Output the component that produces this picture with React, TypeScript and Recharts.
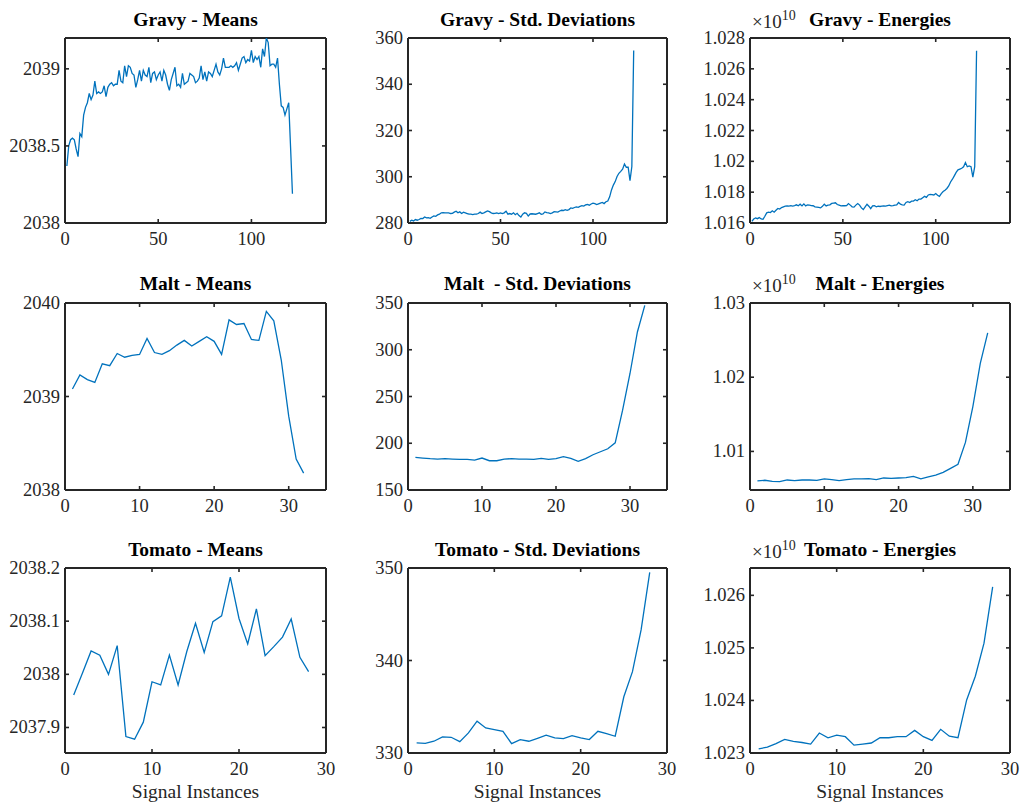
import React from "react";
import { LineChart, Line, XAxis, YAxis, ReferenceLine } from "recharts";

// Gravy: 122 signal instances
const gravyMeans = [
  2038.37, 2038.5, 2038.54, 2038.55, 2038.54, 2038.48, 2038.43, 2038.58, 2038.56, 2038.7,
  2038.75, 2038.78, 2038.84, 2038.8, 2038.83, 2038.92, 2038.84, 2038.85, 2038.84, 2038.85,
  2038.89, 2038.82, 2038.88, 2038.9, 2038.91, 2038.89, 2038.9, 2038.9, 2038.99, 2038.92,
  2038.91, 2039.02, 2038.95, 2039.02, 2039.01, 2038.97, 2038.96, 2038.88, 2038.93, 2038.99,
  2038.92, 2038.99, 2038.96, 2038.95, 2039.01, 2038.91, 2038.97, 2038.98, 2038.93, 2038.96,
  2038.98, 2038.92, 2038.99, 2038.96, 2038.9, 2038.86, 2038.93, 2038.97, 2039.01, 2038.89,
  2038.9, 2038.88, 2038.97, 2038.9, 2038.91, 2038.92, 2038.97, 2038.96, 2038.95, 2038.91,
  2038.92, 2038.94, 2039.02, 2038.93, 2038.98, 2038.92, 2038.98, 2038.97, 2038.95, 2038.99,
  2039.03, 2038.98, 2038.96, 2039.0, 2039.07, 2039.01, 2039.01, 2039.01, 2039.02, 2039.01,
  2039.02, 2039.04, 2038.99, 2039.03, 2039.07, 2039.08, 2039.04, 2039.06, 2039.05, 2039.12,
  2039.04, 2039.08, 2039.06, 2039.08, 2039.01, 2039.13, 2039.08, 2039.2, 2039.17, 2039.02,
  2039.03, 2039.03, 2039.01, 2039.07, 2038.9, 2038.76, 2038.75, 2038.7, 2038.74, 2038.78,
  2038.49, 2038.19,
];
const gravyStd = [
  280.7, 281.2, 280.9, 281.5, 281.2, 281.5, 282.0, 281.9, 282.6, 282.2,
  282.3, 282.0, 282.6, 283.1, 282.9, 283.5, 283.8, 284.4, 284.5, 284.4,
  284.4, 284.4, 284.1, 284.2, 284.7, 285.1, 284.4, 284.8, 284.1, 284.7,
  284.4, 284.1, 283.8, 283.8, 283.6, 283.8, 283.8, 284.1, 284.7, 284.1,
  284.4, 284.8, 285.2, 284.9, 284.4, 284.1, 284.2, 284.4, 284.1, 284.4,
  284.1, 284.4, 285.1, 283.8, 284.1, 283.8, 284.4, 283.6, 284.2, 283.2,
  282.6, 283.8, 284.4, 284.2, 283.0, 283.9, 284.0, 283.9, 283.8, 284.1,
  284.4, 283.8, 283.9, 284.8, 284.5, 284.4, 284.1, 284.4, 284.9, 284.8,
  284.7, 285.2, 285.5, 285.4, 285.8, 285.5, 285.8, 286.5, 286.3, 286.7,
  287.0, 286.8, 287.2, 287.5, 287.3, 287.8, 288.0, 287.7, 288.2, 288.6,
  288.4, 288.0, 288.3, 288.6, 288.9, 288.4, 289.2, 289.5, 291.3, 294.3,
  296.4, 297.9, 300.1, 301.5, 302.3, 303.3, 305.5, 304.1, 304.1, 298.3,
  304.4, 354.6,
];
// energies in units of 1e10
const gravyEnergy = [
  1.0161, 1.01626, 1.01633, 1.01628, 1.01635, 1.01626, 1.01624, 1.01644, 1.01666, 1.0167,
  1.01668, 1.01679, 1.0167, 1.01683, 1.01694, 1.0169, 1.017, 1.01705, 1.01709, 1.01711,
  1.0171, 1.01712, 1.0171, 1.01713, 1.01718, 1.01712, 1.01722, 1.01711, 1.01724, 1.01711,
  1.01718, 1.01716, 1.01713, 1.01712, 1.01705, 1.01703, 1.01701, 1.01698, 1.01708, 1.01722,
  1.01711, 1.01716, 1.01718, 1.01727, 1.01729, 1.01731, 1.0172, 1.01716, 1.01711, 1.01713,
  1.01712, 1.01713, 1.01726, 1.01716, 1.01705, 1.01703, 1.01716, 1.01726, 1.01716, 1.01698,
  1.01687, 1.01705, 1.01722, 1.01709, 1.01693, 1.01711, 1.01713, 1.01705, 1.01709, 1.01707,
  1.01709, 1.01711, 1.01709, 1.01713, 1.01716, 1.01711, 1.01713, 1.01716, 1.01718, 1.01733,
  1.01722, 1.01718, 1.01716, 1.01733, 1.01738, 1.01733, 1.01742, 1.01742, 1.01751, 1.01744,
  1.01755, 1.01755, 1.01764, 1.01773, 1.01766, 1.01782, 1.01786, 1.01784, 1.01782, 1.01791,
  1.0178, 1.01773, 1.01791, 1.01804, 1.01813, 1.01824, 1.0184, 1.01866, 1.01884, 1.01906,
  1.01928, 1.01945, 1.0195, 1.01955, 1.01965, 1.01992, 1.01965, 1.0197, 1.01965, 1.01897,
  1.01965, 1.02718,
];

// Malt: 32 signal instances
const maltMeans = [
  2039.08, 2039.23, 2039.18, 2039.15, 2039.35, 2039.33, 2039.46, 2039.42, 2039.44, 2039.45,
  2039.62, 2039.47, 2039.45, 2039.49, 2039.55, 2039.6, 2039.54, 2039.59, 2039.64, 2039.59,
  2039.45, 2039.82, 2039.77, 2039.78, 2039.61, 2039.6, 2039.91, 2039.81, 2039.39, 2038.79,
  2038.33, 2038.18,
];
const maltStd = [
  184.9, 184.2, 183.5, 183.1, 183.5, 183.1, 182.7, 182.7, 182.0, 184.2,
  181.3, 181.3, 183.1, 183.5, 183.1, 183.1, 182.7, 183.8, 182.7, 183.5,
  185.6, 183.8, 180.6, 183.5, 187.7, 190.9, 194.1, 200.5, 235.4, 274.6,
  319.0, 347.5,
];
const maltEnergy = [
  1.00602, 1.00611, 1.00597, 1.00593, 1.00615, 1.00606, 1.00615, 1.00615, 1.00611, 1.00629,
  1.0062, 1.00606, 1.0062, 1.00629, 1.00629, 1.00633, 1.0062, 1.00642, 1.00638, 1.00642,
  1.00647, 1.00664, 1.00629, 1.00656, 1.00682, 1.00718, 1.00772, 1.00826, 1.01121, 1.01604,
  1.02186, 1.02597,
];

// Tomato: 28 signal instances
const tomatoMeans = [
  2037.961, 2038.002, 2038.044, 2038.036, 2038.0, 2038.054, 2037.883, 2037.878, 2037.91, 2037.986,
  2037.98, 2038.036, 2037.98, 2038.043, 2038.096, 2038.041, 2038.099, 2038.11, 2038.183, 2038.105,
  2038.057, 2038.123, 2038.035, 2038.052, 2038.07, 2038.104, 2038.032, 2038.005,
];
const tomatoStd = [
  331.09, 331.05, 331.27, 331.74, 331.7, 331.23, 332.17, 333.44, 332.71, 332.53,
  332.35, 331.01, 331.45, 331.27, 331.59, 331.92, 331.63, 331.56, 331.88, 331.63,
  331.45, 332.35, 332.1, 331.81, 336.08, 338.79, 343.31, 349.53,
];
const tomatoEnergy = [
  1.02308, 1.02311, 1.02318, 1.02326, 1.02322, 1.0232, 1.02317, 1.02338, 1.02329, 1.02334,
  1.02331, 1.02315, 1.02317, 1.02319, 1.02329, 1.02329, 1.02331, 1.02331, 1.02343, 1.02331,
  1.02324, 1.02345, 1.02332, 1.02329, 1.02401, 1.02446, 1.02509, 1.02616,
];

const titles = [
  ["Gravy - Means", "Gravy - Std. Deviations", "Gravy - Energies"],
  ["Malt - Means", "Malt  - Std. Deviations", "Malt - Energies"],
  ["Tomato - Means", "Tomato - Std. Deviations", "Tomato - Energies"],
];

const AXIS = "#262626";
const BLUE = "#0072BD";
const FONT = "'Liberation Serif', 'Times New Roman', serif";

const COL_X = [65, 408, 750];
const COL_W = [261, 259, 260];
const ROW_Y = [38, 303, 568];
const ROW_H = [185, 187, 185];
const TITLE_Y = [26, 290, 556];

const fmt3 = (v: number) => String(+v.toFixed(3));

interface PanelProps {
  row: number;
  col: number;
  values: number[];
  xDomain: [number, number];
  xTicks: number[];
  yDomain: [number, number];
  yTicks: number[];
}

function Panel({ row, col, values, xDomain, xTicks, yDomain, yTicks }: PanelProps) {
  const data = values.map((y, i) => ({ x: i + 1, y }));
  const YW = 90;
  const XH = 40;
  const MT = 10;
  const MR = 10;
  const w = COL_W[col];
  const h = ROW_H[row];
  const TL = 4; // tick length, pointing inwards on all four sides

  // MATLAB-like box ticks: inward mark at bottom and top, label below
  const xTick = (p: any) => {
    const x = p.x;
    return (
      <g>
        <line x1={x} x2={x} y1={MT + h} y2={MT + h - TL} stroke={AXIS} strokeWidth={1.6} />
        <line x1={x} x2={x} y1={MT} y2={MT + TL} stroke={AXIS} strokeWidth={1.6} />
        <text x={x} y={MT + h + 22} textAnchor="middle" fontFamily={FONT} fontSize={18.5} fill={AXIS}>
          {String(p.payload.value)}
        </text>
      </g>
    );
  };
  const yTick = (p: any) => {
    const y = p.y;
    return (
      <g>
        <line x1={YW} x2={YW + TL} y1={y} y2={y} stroke={AXIS} strokeWidth={1.6} />
        <line x1={YW + w} x2={YW + w - TL} y1={y} y2={y} stroke={AXIS} strokeWidth={1.6} />
        <text x={YW - 5} y={y + 6} textAnchor="end" fontFamily={FONT} fontSize={18.5} fill={AXIS}>
          {fmt3(p.payload.value)}
        </text>
      </g>
    );
  };

  return (
    <div style={{ position: "absolute", left: COL_X[col] - YW, top: ROW_Y[row] - MT }}>
      <LineChart
        width={YW + w + MR}
        height={MT + h + XH}
        data={data}
        margin={{ top: MT, right: MR, bottom: 0, left: 0 }}
      >
        <XAxis
          type="number"
          dataKey="x"
          domain={xDomain}
          ticks={xTicks}
          interval={0}
          allowDataOverflow
          height={XH}
          tickLine={false}
          tick={xTick}
          axisLine={{ stroke: AXIS, strokeWidth: 2 }}
        />
        <YAxis
          type="number"
          domain={yDomain}
          ticks={yTicks}
          interval={0}
          allowDataOverflow
          width={YW}
          tickLine={false}
          tick={yTick}
          axisLine={{ stroke: AXIS, strokeWidth: 2 }}
        />
        <ReferenceLine y={yDomain[1]} stroke={AXIS} strokeWidth={2} />
        <ReferenceLine x={xDomain[1]} stroke={AXIS} strokeWidth={2} />
        <Line
          type="linear"
          dataKey="y"
          stroke={BLUE}
          strokeWidth={1.3}
          dot={false}
          isAnimationActive={false}
        />
      </LineChart>
    </div>
  );
}

export default function App() {
  const gX: [number, number] = [0, 140];
  const gT = [0, 50, 100];
  const mX: [number, number] = [0, 35];
  const tX: [number, number] = [0, 30];
  const dT = [0, 10, 20, 30];
  return (
    <div
      style={{
        position: "absolute",
        left: 0,
        top: 0,
        width: 1022,
        height: 809,
        background: "#fff",
        overflow: "hidden",
      }}
    >
      <Panel row={0} col={0} values={gravyMeans} xDomain={gX} xTicks={gT} yDomain={[2038, 2039.2]} yTicks={[2038, 2038.5, 2039]} />
      <Panel row={0} col={1} values={gravyStd} xDomain={gX} xTicks={gT} yDomain={[280, 360]} yTicks={[280, 300, 320, 340, 360]} />
      <Panel row={0} col={2} values={gravyEnergy} xDomain={gX} xTicks={gT} yDomain={[1.016, 1.028]} yTicks={[1.016, 1.018, 1.02, 1.022, 1.024, 1.026, 1.028]} />

      <Panel row={1} col={0} values={maltMeans} xDomain={mX} xTicks={dT} yDomain={[2038, 2040]} yTicks={[2038, 2039, 2040]} />
      <Panel row={1} col={1} values={maltStd} xDomain={mX} xTicks={dT} yDomain={[150, 350]} yTicks={[150, 200, 250, 300, 350]} />
      <Panel row={1} col={2} values={maltEnergy} xDomain={mX} xTicks={dT} yDomain={[1.0048, 1.03]} yTicks={[1.01, 1.02, 1.03]} />

      <Panel row={2} col={0} values={tomatoMeans} xDomain={tX} xTicks={dT} yDomain={[2037.852, 2038.2]} yTicks={[2037.9, 2038, 2038.1, 2038.2]} />
      <Panel row={2} col={1} values={tomatoStd} xDomain={tX} xTicks={dT} yDomain={[330, 350]} yTicks={[330, 340, 350]} />
      <Panel row={2} col={2} values={tomatoEnergy} xDomain={tX} xTicks={dT} yDomain={[1.023, 1.02652]} yTicks={[1.023, 1.024, 1.025, 1.026]} />

      <svg
        width={1022}
        height={809}
        style={{ position: "absolute", left: 0, top: 0, pointerEvents: "none" }}
      >
        {titles.map((row, r) =>
          row.map((t, c) => (
            <text
              key={`t-${r}-${c}`}
              x={COL_X[c] + COL_W[c] / 2}
              y={TITLE_Y[r]}
              textAnchor="middle"
              fontFamily={FONT}
              fontWeight="bold"
              fontSize={19.5}
              fill="#000"
              style={{ whiteSpace: "pre" }}
            >
              {t}
            </text>
          ))
        )}
        {TITLE_Y.map((y, r) => (
          <text key={`e-${r}`} x={752} y={y + 2} fontFamily={FONT} fontSize={19} fill={AXIS}>
            ×10
            <tspan dy={-8} fontSize={14}>
              10
            </tspan>
          </text>
        ))}
        {COL_X.map((x, c) => (
          <text
            key={`xl-${c}`}
            x={x + COL_W[c] / 2}
            y={798}
            textAnchor="middle"
            fontFamily={FONT}
            fontSize={19.5}
            fill={AXIS}
          >
            Signal Instances
          </text>
        ))}
      </svg>
    </div>
  );
}
